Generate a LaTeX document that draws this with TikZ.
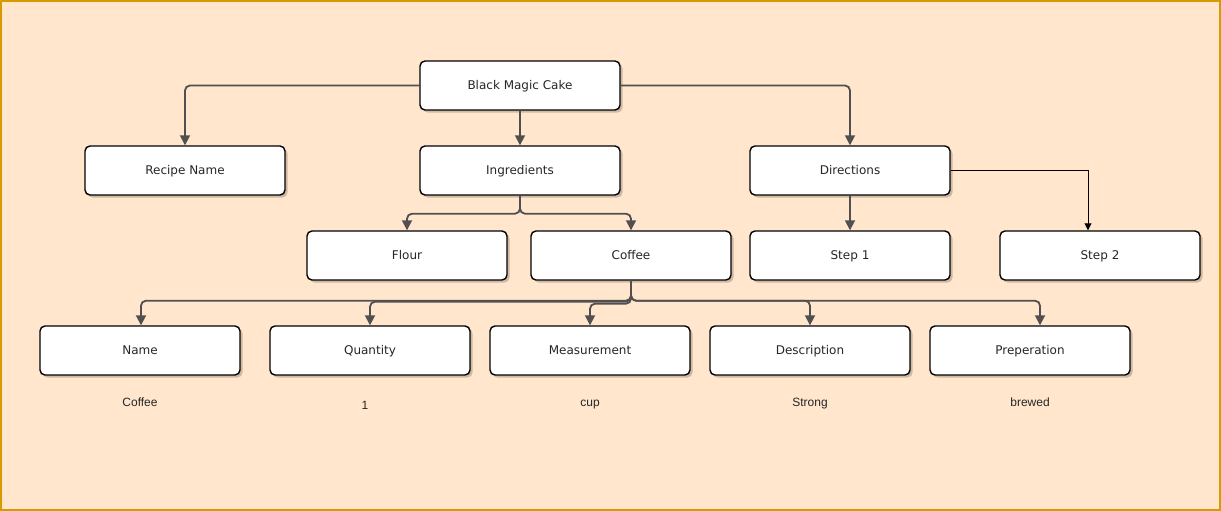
\documentclass[tikz,border=0pt]{standalone}
\usepackage{fontspec}
\setmainfont{DejaVu Sans}
\newfontfamily\labfont{Liberation Sans}
\usetikzlibrary{arrows.meta,shadows}
\definecolor{bgfill}{HTML}{FFE6CC}
\definecolor{bgline}{HTML}{D79B00}
\definecolor{connc}{HTML}{505050}
\begin{document}
\begin{tikzpicture}[x=1pt,y=-1pt,
  box/.style={draw=black, line width=1.4pt, fill=white, rounded corners=5pt,
    minimum width=200pt, minimum height=49pt, inner sep=0pt,
    text height=10pt, text depth=1.2pt,
    font=\fontsize{12}{14}\selectfont, text=black!85,
    drop shadow={shadow xshift=2.5pt, shadow yshift=-2.5pt, fill=black, opacity=0.2}},
  conn/.style={draw=connc, line width=1.8pt, rounded corners=5pt,
    -{Triangle[length=10pt,width=10pt]}},
  thinconn/.style={draw=black, line width=0.9pt, -{Triangle[length=7pt,width=7pt]}},
  lab/.style={font=\labfont\fontsize{12}{14}\selectfont, text=black!85, inner sep=0pt, anchor=base}]
\useasboundingbox (0,0) rectangle (1221,511);
\draw[draw=bgline, fill=bgfill, line width=2pt] (1,1) rectangle (1220,510);

\node[box] (bmc) at (520,85.5) {Black Magic Cake};
\node[box] (rn) at (185,170.5) {Recipe Name};
\node[box] (ing) at (520,170.5) {Ingredients};
\node[box] (dir) at (850,170.5) {Directions};
\node[box] (flour) at (407,255.5) {Flour};
\node[box] (cof) at (631,255.5) {Coffee};
\node[box] (s1) at (850,255.5) {Step 1};
\node[box] (s2) at (1100,255.5) {Step 2};
\node[box] (name) at (140,350.5) {Name};
\node[box] (qty) at (370,350.5) {Quantity};
\node[box] (meas) at (590,350.5) {Measurement};
\node[box] (desc) at (810,350.5) {Description};
\node[box] (prep) at (1030,350.5) {Preperation};

\node[lab] (lname) at (140,406) {Coffee};
\node[lab] (lqty) at (365,409) {1};
\node[lab] (lmeas) at (590,406) {cup};
\node[lab] (ldesc) at (810,406) {Strong};
\node[lab] (lprep) at (1030,406) {brewed};

\draw[conn] (bmc.west) -| (rn.north);
\draw[conn] (bmc.south) -- (ing.north);
\draw[conn] (bmc.east) -| (dir.north);
\draw[conn] (ing.south) -- ++(0,18) -| (flour.north);
\draw[conn] (ing.south) -- ++(0,18) -| (cof.north);
\draw[conn] (dir.south) -- (s1.north);
\draw[thinconn] (dir.east) -| ([xshift=-12pt]s2.north);
\draw[conn] (cof.south) -- ++(0,20) -| ([xshift=1pt]name.north);
\draw[conn] (cof.south) -- ++(0,21) -| (qty.north);
\draw[conn] (cof.south) -- ++(0,23) -| (meas.north);
\draw[conn] (cof.south) -- ++(0,20) -| (desc.north);
\draw[conn] (cof.south) -- ++(0,20) -| ([xshift=10pt]prep.north);
\end{tikzpicture}
\end{document}
